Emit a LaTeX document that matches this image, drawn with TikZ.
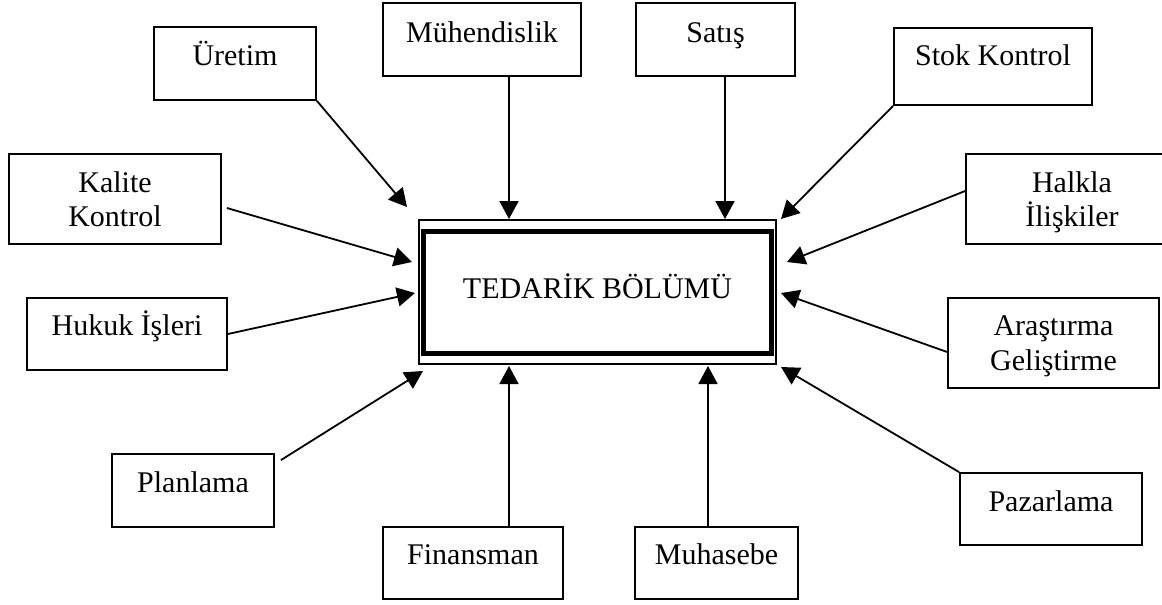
\documentclass[tikz,border=0pt]{standalone}
\usepackage{fontspec}
\setmainfont{Liberation Serif}
\usetikzlibrary{arrows.meta,calc}
\begin{document}
\begin{tikzpicture}[x=1pt,y=-1pt,
  box/.style={draw, line width=1.8pt, inner sep=0pt},
  lbl/.style={anchor=base, inner sep=0pt, font=\fontsize{30}{34}\selectfont},
  feed/.style={line width=1.8pt, -{Triangle[length=18pt,width=19pt]}}]
\useasboundingbox (0,0) rectangle (1162,605);
\clip (0,0) rectangle (1162,605);

% central department
\node[draw, line width=1.2pt, minimum width=357, minimum height=144, inner sep=0pt] (ted) at (597.5,292) {};
\draw[line width=4.5pt] ($(ted.north west)+(5,12)$) rectangle ($(ted.south east)+(-5,-11)$);
\node[lbl] (tedtxt) at (597.5,298) {TEDARİK BÖLÜMÜ};

% surrounding departments
\node[box, minimum width=162, minimum height=73] (uretim) at (235,63.5) {};
\node[lbl] (uretimtxt) at (235,65) {Üretim};
\node[box, minimum width=198, minimum height=73] (muh) at (482,39.5) {};
\node[lbl] (muhtxt) at (482,42) {Mühendislik};
\node[box, minimum width=159, minimum height=73] (satis) at (715.5,39.5) {};
\node[lbl] (satistxt) at (715.5,42) {Satış};
\node[box, minimum width=198, minimum height=77] (stok) at (993,66.5) {};
\node[lbl] (stoktxt) at (993,65) {Stok Kontrol};
\node[box, minimum width=212, minimum height=90] (halk) at (1072,199) {};
\node[lbl] (halktxt1) at (1072,192) {Halkla};
\node[lbl] (halktxt2) at (1072,226) {İlişkiler};
\node[box, minimum width=212, minimum height=90] (kal) at (115,199) {};
\node[lbl] (kaltxt1) at (115,192) {Kalite};
\node[lbl] (kaltxt2) at (115,226) {Kontrol};
\node[box, minimum width=200, minimum height=72] (huk) at (127,334) {};
\node[lbl] (huktxt) at (127,335) {Hukuk İşleri};
\node[box, minimum width=211, minimum height=90] (ars) at (1053.5,343) {};
\node[lbl] (arstxt1) at (1053.5,335) {Araştırma};
\node[lbl] (arstxt2) at (1053.5,370) {Geliştirme};
\node[box, minimum width=162, minimum height=73] (plan) at (193,490.5) {};
\node[lbl] (plantxt) at (193,492) {Planlama};
\node[box, minimum width=182, minimum height=72] (paz) at (1051,509) {};
\node[lbl] (paztxt) at (1051,511) {Pazarlama};
\node[box, minimum width=180, minimum height=72] (fin) at (473,563) {};
\node[lbl] (fintxt) at (473,564) {Finansman};
\node[box, minimum width=163, minimum height=72] (muhas) at (716.5,563) {};
\node[lbl] (muhastxt) at (716.5,564) {Muhasebe};

% arrow tips around the central box
\coordinate (tU) at (407,207);
\coordinate (tM) at (509,219);
\coordinate (tS) at (725,219);
\coordinate (tSt) at (781,219);
\coordinate (tH) at (787,262);
\coordinate (tA) at (781,293);
\coordinate (tP) at (781,367);
\coordinate (tMu) at (708,366);
\coordinate (tF) at (509,366);
\coordinate (tPl) at (423,371);
\coordinate (tHu) at (415,293);
\coordinate (tK) at (412,262);

% connectors
\draw[feed] (uretim.south east) -- (tU);
\draw[feed] (muh.south -| tM) -- (tM);
\draw[feed] (satis.south -| tS) -- (tS);
\draw[feed] (stok.south west) -- (tSt);
\draw[feed] ($(halk.west)+(0,-8)$) -- (tH);
\draw[feed] ($(ars.west)+(0,9)$) -- (tA);
\draw[feed] (paz.north west) -- (tP);
\draw[feed] (muhas.north -| tMu) -- (tMu);
\draw[feed] (fin.north -| tF) -- (tF);
\draw[feed] ($(plan.north east)+(6,7)$) -- (tPl);
\draw[feed] (huk.east) -- (tHu);
\draw[feed] ($(kal.east)+(5,9)$) -- (tK);
\end{tikzpicture}
\end{document}
